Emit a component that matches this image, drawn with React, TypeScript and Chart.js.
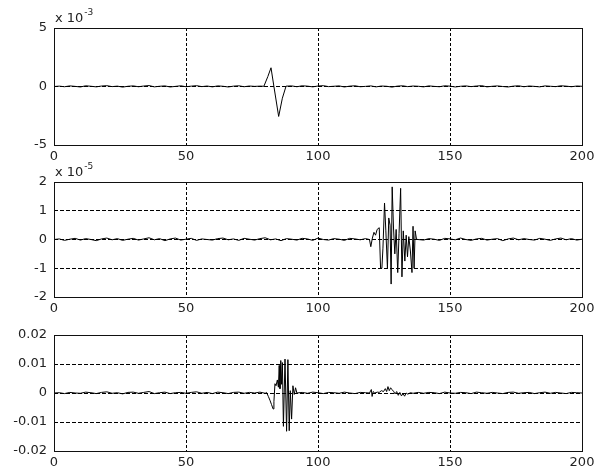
import { useEffect, useRef } from "react";
import { Chart, registerables } from "chart.js";

Chart.register(...registerables);

// shared time axis
const TIME_TICKS = [0, 50, 100, 150, 200];

// panel 1, values in units of 1e-3
const TRACE_1: [number, number][] = [
  [0, 0.0], [2, 0.03], [4, -0.02], [6, 0.05], [8, 0.01], [10, -0.04], [12, 0.06], [14, 0.02],
  [16, -0.03], [18, 0.04], [20, 0.07], [22, -0.01], [24, 0.03], [26, -0.05], [28, 0.02], [30, 0.05],
  [32, -0.02], [34, 0.04], [36, 0.08], [38, -0.03], [40, 0.02], [42, 0.05], [44, -0.04], [46, 0.01],
  [48, 0.06], [50, -0.02], [52, 0.03], [54, 0.07], [56, -0.01], [58, 0.04], [60, -0.03], [62, 0.05],
  [64, 0.02], [66, -0.04], [68, 0.03], [70, 0.06], [72, -0.02], [74, 0.04], [76, 0.01], [78, 0.03],
  [79.5, 0.02], [81, 0.85], [82.2, 1.6], [83.3, 0.0], [85.1, -2.56], [86.5, -1.0], [87.9, 0.03],
  [90, 0.05], [92, -0.02], [94, 0.06], [96, 0.03], [98, -0.03], [100, 0.04], [102, 0.07], [104, -0.01],
  [106, 0.02], [108, 0.05], [110, -0.04], [112, 0.03], [114, 0.06], [116, -0.02], [118, 0.01], [120, 0.05],
  [122, -0.03], [124, 0.04], [126, 0.02], [128, -0.05], [130, 0.03], [132, 0.06], [134, -0.01], [136, 0.04],
  [138, 0.02], [140, -0.03], [142, 0.05], [144, 0.01], [146, -0.02], [148, 0.06], [150, 0.03], [152, -0.04],
  [154, 0.02], [156, 0.05], [158, -0.01], [160, 0.04], [162, 0.07], [164, -0.03], [166, 0.02], [168, 0.05],
  [170, 0.0], [172, -0.04], [174, 0.03], [176, 0.06], [178, -0.02], [180, 0.04], [182, 0.01], [184, -0.03],
  [186, 0.05], [188, 0.02], [190, -0.01], [192, 0.06], [194, 0.03], [196, -0.02], [198, 0.04], [200, 0.02],
];
const TICKS_1 = [-5, 0, 5];

// panel 2, values in units of 1e-5
const TRACE_2: [number, number][] = [
  [0, 0.0], [2, 0.02], [4, -0.03], [6, 0.01], [8, 0.04], [10, -0.02], [12, 0.03], [14, 0.0],
  [16, -0.04], [18, 0.02], [20, 0.05], [22, -0.01], [24, 0.03], [26, -0.03], [28, 0.01], [30, 0.04],
  [32, -0.02], [34, 0.02], [36, 0.06], [38, -0.01], [40, 0.03], [42, -0.04], [44, 0.02], [46, 0.05],
  [48, -0.02], [50, 0.01], [52, 0.04], [54, -0.03], [56, 0.02], [58, 0.0], [60, -0.02], [62, 0.03],
  [64, 0.05], [66, -0.01], [68, 0.02], [70, -0.03], [72, 0.04], [74, 0.01], [76, -0.02], [78, 0.03],
  [80, 0.06], [82, -0.01], [84, 0.02], [86, -0.04], [88, 0.03], [90, 0.01], [92, -0.02], [94, 0.04],
  [96, 0.02], [98, -0.03], [100, 0.05], [102, 0.0], [104, -0.02], [106, 0.03], [108, 0.01], [110, -0.03],
  [112, 0.04], [114, 0.02], [116, -0.01], [118, 0.03],
  [119.5, 0.0], [120.0, -0.25], [120.6, 0.05], [121.2, 0.25], [121.8, 0.15], [122.4, 0.35], [123.2, 0.41],
  [123.7, -1.0], [124.2, -1.0], [124.6, -0.3], [125.2, 1.27], [125.7, 0.3], [126.3, -1.0], [126.8, 0.75],
  [127.3, 0.5], [127.7, -1.55], [128.1, 1.83], [128.6, 0.4], [129.1, -0.5], [129.6, 0.35], [130.2, -1.15],
  [130.7, 0.2], [131.3, 1.78], [131.8, -1.3], [132.3, 0.3], [132.9, -0.75], [133.4, 0.15], [133.9, -0.6],
  [134.4, 0.1], [135.0, -0.4], [135.6, -1.15], [136.0, 0.46], [136.4, -1.0], [136.8, 0.3], [137.3, 0.02],
  [137.8, 0.0],
  [140, -0.02], [142, 0.03], [144, 0.01], [146, -0.03], [148, 0.04], [150, 0.02], [152, -0.01], [154, 0.05],
  [156, 0.0], [158, -0.03], [160, 0.02], [162, 0.04], [164, -0.02], [166, 0.01], [168, 0.03], [170, -0.04],
  [172, 0.02], [174, 0.05], [176, -0.01], [178, 0.03], [180, 0.0], [182, -0.02], [184, 0.04], [186, 0.01],
  [188, -0.03], [190, 0.02], [192, 0.05], [194, -0.01], [196, 0.03], [198, -0.02], [200, 0.01],
];
const TICKS_2 = [-2, -1, 0, 1, 2];

// panel 3, plain values
const TRACE_3: [number, number][] = [
  [0, 0.0], [2, 0.0001], [4, -0.0002], [6, 0.0002], [8, 0.0], [10, -0.0001], [12, 0.0003], [14, 0.0001],
  [16, -0.0002], [18, 0.0002], [20, 0.0004], [22, -0.0001], [24, 0.0001], [26, -0.0003], [28, 0.0002],
  [30, 0.0003], [32, -0.0001], [34, 0.0002], [36, 0.0005], [38, -0.0002], [40, 0.0001], [42, 0.0003],
  [44, -0.0002], [46, 0.0001], [48, 0.0002], [50, -0.0001], [52, 0.0002], [54, 0.0004], [56, -0.0001],
  [58, 0.0002], [60, -0.0002], [62, 0.0003], [64, 0.0001], [66, -0.0002], [68, 0.0002], [70, 0.0003],
  [72, -0.0001], [74, 0.0002], [76, 0.0], [78, 0.0003], [80, -0.0001],
  [80.5, 0.0002], [81.2, -0.0012], [81.8, -0.0025], [82.4, -0.004], [83.0, -0.0055], [83.3, -0.003],
  [83.7, 0.0032], [84.1, 0.0025], [84.6, 0.0045], [85.0, 0.002], [85.3, 0.0095], [85.6, 0.0015],
  [85.9, 0.0112], [86.2, 0.003], [86.5, 0.0105], [86.9, -0.0115], [87.5, 0.0117], [88.1, -0.0132],
  [88.6, 0.0115], [89.1, -0.013], [89.5, 0.0008], [90.0, -0.009], [90.5, 0.0025], [91.0, -0.0005],
  [91.5, 0.0018], [92.0, 0.0],
  [94, 0.0002], [96, -0.0001], [98, 0.0003], [100, 0.0001], [102, -0.0002], [104, 0.0002], [106, 0.0001],
  [108, -0.0001], [110, 0.0003], [112, 0.0], [114, -0.0002], [116, 0.0002], [118, 0.0001],
  [119.5, 0.0], [120.2, 0.0012], [120.5, -0.0012], [120.9, 0.0005], [121.5, 0.0], [122.5, 0.0003],
  [123.2, 0.0002], [124.0, 0.0008], [124.8, 0.0005], [125.5, 0.0015], [126.0, 0.0005], [126.5, 0.0022],
  [127.0, 0.0008], [127.5, 0.0018], [128.0, 0.0012], [128.6, 0.0006], [129.2, -0.0003], [129.8, 0.0005],
  [130.4, -0.0008], [131.0, 0.0002], [131.6, -0.001], [132.2, -0.0002], [132.8, -0.0011], [133.4, 0.0],
  [134.0, -0.0004], [135.0, 0.0001], [136.0, -0.0001],
  [138, 0.0002], [140, -0.0001], [142, 0.0002], [144, 0.0001], [146, -0.0002], [148, 0.0003], [150, 0.0],
  [152, -0.0001], [154, 0.0002], [156, 0.0001], [158, -0.0002], [160, 0.0003], [162, 0.0001], [164, -0.0001],
  [166, 0.0002], [168, 0.0], [170, -0.0002], [172, 0.0002], [174, 0.0003], [176, -0.0001], [178, 0.0001],
  [180, 0.0002], [182, -0.0002], [184, 0.0001], [186, 0.0003], [188, -0.0001], [190, 0.0002], [192, 0.0],
  [194, -0.0002], [196, 0.0002], [198, 0.0001], [200, 0.0],
];
const TICKS_3 = [-0.02, -0.01, 0, 0.01, 0.02];

const FONT_FAMILY = "'DejaVu Sans', sans-serif";
const TEXT_COLOR = "#222";

type PanelProps = {
  trace: [number, number][];
  yTicks: number[];
  exponent: string | null;
  canvasTop: number;
  canvasHeight: number;
  areaTop: number;
  areaBottom: number;
};

function Panel({ trace, yTicks, exponent, canvasTop, canvasHeight, areaTop, areaBottom }: PanelProps) {
  const canvasRef = useRef<HTMLCanvasElement | null>(null);

  useEffect(() => {
    if (!canvasRef.current) return;

    // box round the plot area plus the "x 10^n" note at its top left
    const framePlugin = {
      id: "frame",
      afterDraw(chart: Chart) {
        const { ctx, chartArea } = chart;
        const l = Math.round(chartArea.left) + 0.5;
        const t = Math.round(chartArea.top) + 0.5;
        const w = Math.round(chartArea.right) - Math.round(chartArea.left);
        const h = Math.round(chartArea.bottom) - Math.round(chartArea.top);
        ctx.save();
        ctx.strokeStyle = "#111";
        ctx.lineWidth = 1;
        ctx.setLineDash([]);
        ctx.strokeRect(l, t, w, h);
        if (exponent) {
          ctx.fillStyle = TEXT_COLOR;
          ctx.textBaseline = "alphabetic";
          ctx.textAlign = "left";
          ctx.font = `13px ${FONT_FAMILY}`;
          const base = "x 10";
          ctx.fillText(base, chartArea.left + 1, chartArea.top - 6);
          const bw = ctx.measureText(base).width;
          ctx.font = `9px ${FONT_FAMILY}`;
          ctx.fillText(exponent, chartArea.left + 2 + bw, chartArea.top - 13);
        }
        ctx.restore();
      },
    };

    const font = { family: FONT_FAMILY, size: 13 };

    const chart = new Chart(canvasRef.current, {
      type: "line",
      data: {
        datasets: [
          {
            data: trace,
            borderColor: "#000",
            borderWidth: 1,
            pointRadius: 0,
            tension: 0,
            fill: false,
          },
        ],
      },
      options: {
        animation: false,
        responsive: true,
        maintainAspectRatio: false,
        layout: { padding: { top: areaTop - canvasTop, right: 20, left: 0, bottom: 0 } },
        plugins: { legend: { display: false }, tooltip: { enabled: false } },
        scales: {
          x: {
            type: "linear",
            min: TIME_TICKS[0],
            max: TIME_TICKS[TIME_TICKS.length - 1],
            afterBuildTicks: (scale: any) => {
              scale.ticks = TIME_TICKS.map((value) => ({ value }));
            },
            afterFit: (scale: any) => {
              scale.height = canvasTop + canvasHeight - areaBottom;
              scale.paddingLeft = 0;
              scale.paddingRight = 0;
            },
            ticks: { font, color: TEXT_COLOR, padding: 4, maxRotation: 0, autoSkip: false },
            grid: { color: "#000", lineWidth: 1, drawTicks: false },
            border: { display: false, dash: [3, 2] },
          },
          y: {
            type: "linear",
            min: yTicks[0],
            max: yTicks[yTicks.length - 1],
            afterBuildTicks: (scale: any) => {
              scale.ticks = yTicks.map((value) => ({ value }));
            },
            afterFit: (scale: any) => {
              scale.width = 54;
              scale.paddingTop = 0;
              scale.paddingBottom = 0;
            },
            ticks: {
              font,
              color: TEXT_COLOR,
              padding: 7,
              callback: (value: any) => String(parseFloat(Number(value).toFixed(4))),
            },
            grid: { color: "#000", lineWidth: 1, drawTicks: false },
            border: { display: false, dash: [4, 2] },
          },
        },
      },
      plugins: [framePlugin],
    });

    return () => {
      chart.destroy();
    };
  }, [trace, yTicks, exponent, canvasTop, canvasHeight, areaTop, areaBottom]);

  return (
    <div style={{ position: "absolute", left: 0, top: canvasTop, width: 602, height: canvasHeight }}>
      <canvas ref={canvasRef} />
    </div>
  );
}

export default function App() {
  return (
    <div style={{ position: "absolute", left: 0, top: 0, width: 602, height: 471, background: "#fff" }}>
      <Panel trace={TRACE_1} yTicks={TICKS_1} exponent="-3" canvasTop={0} canvasHeight={170} areaTop={28} areaBottom={145} />
      <Panel trace={TRACE_2} yTicks={TICKS_2} exponent="-5" canvasTop={155} canvasHeight={165} areaTop={182} areaBottom={297} />
      <Panel trace={TRACE_3} yTicks={TICKS_3} exponent={null} canvasTop={310} canvasHeight={161} areaTop={335} areaBottom={451} />
    </div>
  );
}
